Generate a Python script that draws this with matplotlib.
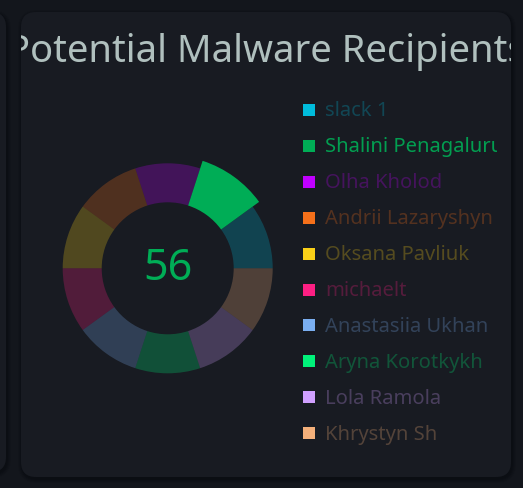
import matplotlib
matplotlib.use('Agg')
import matplotlib.pyplot as plt
from matplotlib.patches import FancyBboxPatch, Rectangle
from matplotlib.transforms import Bbox

plt.rcParams['font.family'] = ['Noto Sans', 'DejaVu Sans']

# data
names = ['slack 1', 'Shalini Penagaluru', 'Olha Kholod', 'Andrii Lazaryshyn',
         'Oksana Pavliuk', 'michaelt', 'Anastasiia Ukhan', 'Aryna Korotkykh',
         'Lola Ramola', 'Khrystyn Sh']
shares = [1, 1, 1, 1, 1, 1, 1, 1, 1, 1]
colors = ['#00bcdc', '#00ad56', '#c000ff', '#f5701a', '#fad018',
          '#fd1f83', '#7aaef0', '#00f27a', '#d0a0ff', '#f4b07a']
total = 56
title = 'Potential Malware Recipients'
highlight = 1

W, H = 523, 489
PAGE = '#13161c'
CARD = '#181b22'

fig = plt.figure(figsize=(W / 100, H / 100), dpi=100, facecolor=PAGE)
bg = fig.add_axes([0, 0, 1, 1])
bg.set_xlim(0, W)
bg.set_ylim(H, 0)
bg.axis('off')
bg.set_facecolor(PAGE)

# cards with a soft shadow
def card(x0, y0, x1, y1, z=1):
    for i, a in enumerate([0.10, 0.12, 0.15, 0.2]):
        g = 5 - i
        bg.add_patch(FancyBboxPatch((x0 - g + 2, y0 - g + 3), x1 - x0 + 2 * g - 2, y1 - y0 + 2 * g - 2,
                                    boxstyle='round,pad=0,rounding_size=%d' % (15 + g),
                                    fc='#07080b', ec='none', alpha=a, zorder=z))
    p = FancyBboxPatch((x0, y0), x1 - x0, y1 - y0, boxstyle='round,pad=0,rounding_size=15',
                       fc=CARD, ec='none', zorder=z + 1)
    bg.add_patch(p)
    return p

card(-40, 13, 6, 473)
card(21, 13, 511, 478)

# title is cut by the card edges (clip box in display pixels)
t = bg.text(266.5, 62, title, ha='center', va='baseline', fontsize=27.5, fontweight='medium',
            color='#b0c0be', zorder=5, clip_on=True)
t.set_clip_box(Bbox.from_extents(21, 0, 511, H))

# donut
cx, cy, R, R_in = 167.7, 269.3, 105, 66
half = 122
pax = fig.add_axes([(cx - half) / W, (H - cy - half) / H, 2 * half / W, 2 * half / H])
pax.patch.set_alpha(0)
wedges, _ = pax.pie(shares, colors=colors, startangle=0, counterclock=True, radius=R,
                    wedgeprops=dict(width=R - R_in, linewidth=0, alpha=0.25))
hw = wedges[highlight]
hw.set_alpha(1)
hw.set_radius(113)
hw.set_width(113 - R_in)
pax.set_xlim(-half, half)
pax.set_ylim(-half, half)
pax.set_aspect('equal')
pax.axis('off')
pax.text(0, 0, str(total), ha='center', va='center', fontsize=31, fontweight='semibold',
         color='#00ad56')

# legend
for i, (n, c) in enumerate(zip(names, colors)):
    y = 111 + i * 35.9
    bg.add_patch(Rectangle((303, y - 6), 12, 12, fc=c, ec='none', zorder=5))
    tx = bg.text(325, y + 0.5, n, ha='left', va='center', fontsize=14.5, color=c,
                 alpha=0.9 if i == highlight else 0.27, zorder=5, clip_on=True)
    tx.set_clip_box(Bbox.from_extents(0, 0, 497, H))

fig.savefig('out.png', dpi=100, facecolor=PAGE)
